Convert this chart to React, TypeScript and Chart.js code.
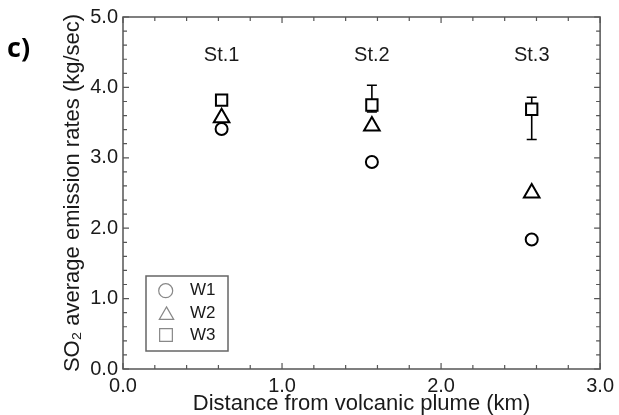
import React, { useEffect, useRef } from 'react';
import { Chart, registerables } from 'chart.js';

Chart.register(...registerables);

// ---- data ----
const stations = ['St.1', 'St.2', 'St.3'];
const distanceKm = [0.62, 1.565, 2.57];
const w1 = [3.41, 2.94, 1.84];
const w2 = [3.57, 3.45, 2.5];
const w3 = [3.82, 3.75, 3.69];
const w3ErrLow: (number | null)[] = [null, 3.65, 3.26];
const w3ErrHigh: (number | null)[] = [null, 4.03, 3.86];
const stationLabelY = 4.46;
const seriesNames = ['W1', 'W2', 'W3'];
const seriesStyles = ['circle', 'triangle', 'rect'];
const xMin = 0, xMax = 3, yMin = 0, yMax = 5;

const FONT = '"Liberation Sans", Arial, sans-serif';
const AXIS_COLOR = '#555';
const TEXT_COLOR = '#1a1a1a';

function drawMarker(ctx: CanvasRenderingContext2D, style: string, x: number, y: number, r: number) {
  ctx.beginPath();
  if (style === 'circle') {
    ctx.arc(x, y, r, 0, Math.PI * 2);
  } else if (style === 'triangle') {
    for (let k = 0; k < 3; k++) {
      const ang = k * (2 * Math.PI / 3);
      const px = x + Math.sin(ang) * r, py = y - Math.cos(ang) * r;
      if (k === 0) ctx.moveTo(px, py); else ctx.lineTo(px, py);
    }
    ctx.closePath();
  } else {
    const s = r * Math.SQRT1_2;
    ctx.rect(x - s, y - s, 2 * s, 2 * s);
  }
  ctx.fill();
  ctx.stroke();
}

const framePlugin = {
  id: 'frameTicks',
  beforeDatasetsDraw(chart: any) {
    const { ctx, scales } = chart;
    ctx.save();
    ctx.strokeStyle = '#000';
    ctx.lineWidth = 1.6;
    ctx.beginPath();
    distanceKm.forEach((d, i) => {
      const lo = w3ErrLow[i], hi = w3ErrHigh[i];
      if (lo == null || hi == null) return;
      const px = scales.x.getPixelForValue(d);
      const pl = scales.y.getPixelForValue(lo);
      const ph = scales.y.getPixelForValue(hi);
      ctx.moveTo(px, pl); ctx.lineTo(px, ph);
      ctx.moveTo(px - 5, pl); ctx.lineTo(px + 5, pl);
      ctx.moveTo(px - 5, ph); ctx.lineTo(px + 5, ph);
    });
    ctx.stroke();
    ctx.restore();
  },
  afterDraw(chart: any) {
    const { ctx, chartArea: a, scales } = chart;
    const xs = scales.x, ys = scales.y;
    ctx.save();
    ctx.strokeStyle = AXIS_COLOR;
    ctx.lineWidth = 1.5;
    ctx.strokeRect(a.left, a.top, a.right - a.left, a.bottom - a.top);
    ctx.lineWidth = 1.2;
    ctx.beginPath();
    for (let i = 0; i <= (xMax - xMin) * 5; i++) {
      const v = xMin + i / 5;
      const px = xs.getPixelForValue(v);
      const len = i % 5 === 0 ? 6 : 4;
      ctx.moveTo(px, a.bottom); ctx.lineTo(px, a.bottom - len);
      ctx.moveTo(px, a.top); ctx.lineTo(px, a.top + len);
    }
    for (let i = 0; i <= (yMax - yMin) * 5; i++) {
      const v = yMin + i / 5;
      const py = ys.getPixelForValue(v);
      const len = i % 5 === 0 ? 6 : 4;
      ctx.moveTo(a.left, py); ctx.lineTo(a.left + len, py);
      ctx.moveTo(a.right, py); ctx.lineTo(a.right - len, py);
    }
    ctx.stroke();

    // station labels
    ctx.fillStyle = TEXT_COLOR;
    ctx.font = `20px ${FONT}`;
    ctx.textAlign = 'center';
    ctx.textBaseline = 'middle';
    stations.forEach((s, i) => {
      ctx.fillText(s, xs.getPixelForValue(distanceKm[i]), ys.getPixelForValue(stationLabelY));
    });

    // panel label
    ctx.font = `bold 27px "Open Sans", ${FONT}`;
    ctx.textAlign = 'left';
    ctx.textBaseline = 'alphabetic';
    ctx.fillStyle = '#000';
    ctx.fillText('c)', 7, 57);

    // legend box
    const lx = 146, ly = 276, lw = 82, lh = 75;
    ctx.fillStyle = '#fff';
    ctx.fillRect(lx, ly, lw, lh);
    ctx.strokeStyle = '#666';
    ctx.lineWidth = 1.5;
    ctx.strokeRect(lx, ly, lw, lh);
    const rows = [14.7, 37.2, 59];
    seriesNames.forEach((n, i) => {
      const cy = ly + rows[i];
      ctx.strokeStyle = '#888';
      ctx.fillStyle = '#fff';
      ctx.lineWidth = 1.2;
      const style = seriesStyles[i];
      if (style === 'triangle') drawMarker(ctx, style, 166.5, cy + 2, 8.3);
      else if (style === 'rect') drawMarker(ctx, style, 166, cy, 9);
      else drawMarker(ctx, style, 165.7, cy, 7);
      ctx.fillStyle = TEXT_COLOR;
      ctx.font = `17px ${FONT}`;
      ctx.textAlign = 'left';
      ctx.textBaseline = 'middle';
      ctx.fillText(n, 190, cy);
    });
    ctx.restore();
  },
};

export default function App() {
  const ref = useRef<HTMLCanvasElement | null>(null);
  useEffect(() => {
    if (!ref.current) return;
    const series = [w1, w2, w3];
    const radii = [6, 9, 8];
    const chart = new Chart(ref.current, {
      type: 'scatter',
      data: {
        datasets: series.map((vals, si) => ({
          label: seriesNames[si],
          data: vals.map((v, i) => ({ x: distanceKm[i], y: v })),
          pointStyle: seriesStyles[si] as any,
          pointRadius: radii[si],
          pointHoverRadius: radii[si],
          borderColor: '#000',
          backgroundColor: '#fff',
          borderWidth: 2,
        })),
      },
      options: {
        animation: false,
        responsive: true,
        maintainAspectRatio: false,
        layout: { padding: { top: 15, right: 16, left: 0, bottom: 0 } },
        plugins: { legend: { display: false }, tooltip: { enabled: false } },
        scales: {
          x: {
            type: 'linear',
            min: xMin,
            max: xMax,
            grid: { display: false, drawTicks: false },
            border: { display: false },
            ticks: {
              stepSize: 1,
              padding: 5,
              color: TEXT_COLOR,
              font: { family: FONT, size: 20 },
              callback: (v: any) => Number(v).toFixed(1),
            },
            title: {
              display: true,
              text: 'Distance from volcanic plume (km)',
              color: TEXT_COLOR,
              font: { family: FONT, size: 22, lineHeight: 1 },
              padding: { top: -1, bottom: 0 },
            },
            afterFit: (s: any) => { s.height = 46; },
          },
          y: {
            type: 'linear',
            min: yMin,
            max: yMax,
            grid: { display: false, drawTicks: false },
            border: { display: false },
            ticks: {
              stepSize: 1,
              padding: 5,
              color: TEXT_COLOR,
              font: { family: FONT, size: 20 },
              callback: (v: any) => Number(v).toFixed(1),
            },
            title: {
              display: true,
              text: 'SO\u2082 average emission rates (kg/sec)',
              color: TEXT_COLOR,
              font: { family: FONT, size: 22 },
              padding: { top: 60, bottom: 0 },
            },
            afterFit: (s: any) => { s.width = 123; },
          },
        },
      },
      plugins: [framePlugin],
    });
    return () => chart.destroy();
  }, []);
  return (
    <div style={{ position: 'fixed', left: 0, top: 0, width: 619, height: 415, background: '#fff' }}>
      <canvas ref={ref} />
    </div>
  );
}
